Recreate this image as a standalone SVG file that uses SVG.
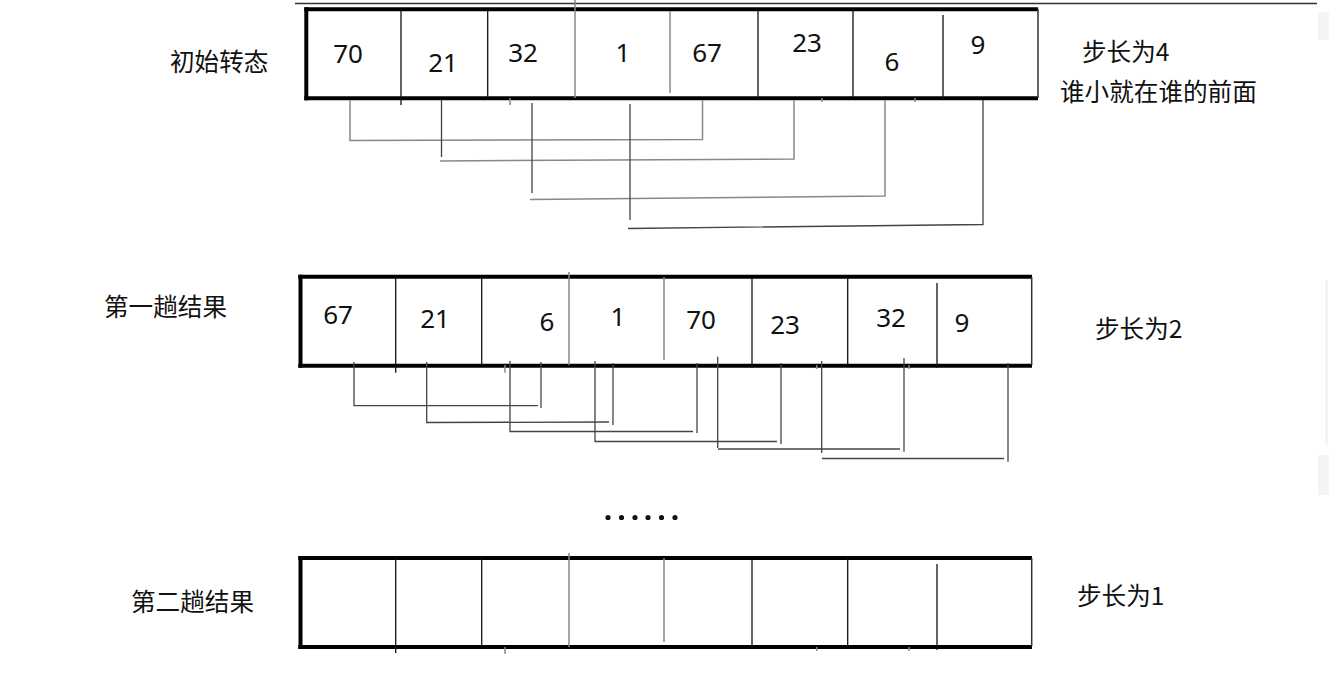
<svg xmlns="http://www.w3.org/2000/svg" width="1329" height="690" viewBox="0 0 1329 690">
<style>
.num{font-family:"Noto Sans","Open Sans","Liberation Sans",sans-serif;font-size:26px;fill:#111;text-anchor:middle}
.lbl{font-family:"Noto Sans CJK SC","Noto Sans",sans-serif;font-size:24.6px;fill:#111}
.thick{stroke:#000;stroke-width:4;fill:none}
.edge{stroke:#333;stroke-width:1.5;fill:none}
.div{stroke:#111;stroke-width:1.3;fill:none}
.divg{stroke:#888;stroke-width:1.5;fill:none}
.conn{stroke:#444;stroke-width:1.3;fill:none}
.conng{stroke:#888;stroke-width:1.5;fill:none}
</style>
<rect width="1329" height="690" fill="#fff"/>
<line x1="295" y1="3.5" x2="1317" y2="3.5" stroke="#333" stroke-width="1.5"/>
<rect x="1318" y="12" width="11" height="28" fill="#f4f4f4"/>
<line x1="1326.5" y1="280" x2="1326.5" y2="445" stroke="#eee" stroke-width="2"/>
<rect x="1318" y="455" width="11" height="40" fill="#f4f4f4"/>

<g id="label-initial"><text class="lbl" x="170" y="71">初始转态</text></g>
<g id="label-first"><text class="lbl" x="104" y="316">第一趟结果</text></g>
<g id="label-second"><text class="lbl" x="131" y="611">第二趟结果</text></g>
<g id="note-step4"><text class="lbl" x="1082" y="61">步长为4</text><text class="lbl" x="1060" y="101">谁小就在谁的前面</text></g>
<g id="note-step2"><text class="lbl" x="1095" y="338">步长为2</text></g>
<g id="note-step1"><text class="lbl" x="1077" y="605">步长为1</text></g>

<g id="row-initial">
<line class="thick" x1="304.3" y1="9.3" x2="1038" y2="9.3"/>
<line class="thick" x1="304.3" y1="98.3" x2="1038" y2="98.3"/>
<line class="thick" x1="306.3" y1="7.3" x2="306.3" y2="100.3"/>
<line class="edge" x1="1038" y1="9" x2="1038" y2="98"/>
<line class="div" x1="401" y1="10" x2="401" y2="105"/>
<line class="div" x1="487.7" y1="10" x2="487.7" y2="98"/>
<line class="divg" x1="575" y1="0" x2="575" y2="98"/>
<line class="divg" x1="670" y1="11" x2="670" y2="93"/>
<line class="div" x1="758" y1="10" x2="758" y2="100"/>
<line class="div" x1="853" y1="10" x2="853" y2="98"/>
<line class="div" x1="943" y1="15" x2="943" y2="100"/>
<line class="divg" x1="510" y1="98" x2="510" y2="105"/>
<line class="divg" x1="822" y1="98" x2="822" y2="102"/>
<line class="divg" x1="915" y1="98" x2="915" y2="102"/>
<text class="num" x="348" y="63">70</text>
<text class="num" x="443" y="72">21</text>
<text class="num" x="523" y="62">32</text>
<text class="num" x="623" y="62">1</text>
<text class="num" x="707" y="62">67</text>
<text class="num" x="807" y="52">23</text>
<text class="num" x="892" y="71">6</text>
<text class="num" x="978" y="54">9</text>
</g>

<g id="row-first">
<line class="thick" x1="298.3" y1="276.7" x2="1032" y2="276.7"/>
<line class="thick" x1="298.3" y1="365.7" x2="1032" y2="365.7"/>
<line class="thick" x1="300.5" y1="274.7" x2="300.5" y2="367.7"/>
<line class="edge" x1="1031.7" y1="277" x2="1031.7" y2="365"/>
<line class="div" x1="395.7" y1="277" x2="395.7" y2="372.7"/>
<line class="div" x1="481.7" y1="277" x2="481.7" y2="365"/>
<line class="divg" x1="569" y1="272" x2="569" y2="365"/>
<line class="divg" x1="664" y1="277" x2="664" y2="360"/>
<line class="div" x1="752" y1="277" x2="752" y2="368"/>
<line class="div" x1="847.7" y1="277" x2="847.7" y2="365"/>
<line class="div" x1="937" y1="283" x2="937" y2="368"/>
<line class="divg" x1="505" y1="365" x2="505" y2="372.7"/>
<line class="divg" x1="816.7" y1="365" x2="816.7" y2="369"/>
<line class="divg" x1="909" y1="365" x2="909" y2="369"/>
<text class="num" x="338" y="324">67</text>
<text class="num" x="435" y="328">21</text>
<text class="num" x="547" y="331">6</text>
<text class="num" x="618" y="326">1</text>
<text class="num" x="701" y="329">70</text>
<text class="num" x="785" y="334">23</text>
<text class="num" x="891" y="327">32</text>
<text class="num" x="962" y="332">9</text>
</g>

<g id="ellipsis" fill="#111">
<circle cx="608" cy="517.5" r="2.6"/>
<circle cx="621.5" cy="517.5" r="2.6"/>
<circle cx="635" cy="517.5" r="2.6"/>
<circle cx="648" cy="517.5" r="2.6"/>
<circle cx="661.5" cy="517.5" r="2.6"/>
<circle cx="675" cy="517.5" r="2.6"/>
</g>

<g id="row-second">
<line class="thick" x1="298.3" y1="558" x2="1032" y2="558"/>
<line class="thick" x1="298.3" y1="647" x2="1032" y2="647"/>
<line class="thick" x1="300.5" y1="556" x2="300.5" y2="649"/>
<line class="edge" x1="1031.7" y1="558" x2="1031.7" y2="646"/>
<line class="div" x1="395.7" y1="558" x2="395.7" y2="653"/>
<line class="div" x1="481.7" y1="558" x2="481.7" y2="647"/>
<line class="divg" x1="569" y1="553" x2="569" y2="647"/>
<line class="divg" x1="664" y1="558" x2="664" y2="642"/>
<line class="div" x1="752" y1="558" x2="752" y2="649"/>
<line class="div" x1="847.7" y1="558" x2="847.7" y2="647"/>
<line class="div" x1="937" y1="564" x2="937" y2="650"/>
<line class="divg" x1="505" y1="647" x2="505" y2="654"/>
<line class="divg" x1="816.7" y1="647" x2="816.7" y2="651"/>
<line class="divg" x1="909" y1="647" x2="909" y2="651"/>
</g>

<g id="connectors">
<polyline class="conng" points="350,100 350,140.5 702.5,139.5 702.5,100"/>
<polyline class="conn" points="441.5,100 441.5,157"/>
<polyline class="conng" points="440,161 794,159 794,100"/>
<polyline class="conn" points="532,103 532,193"/>
<polyline class="conng" points="530,199.5 885,196 885,100"/>
<polyline class="conn" points="630,104 630,220"/>
<polyline class="conn" points="628,228.5 983,224.5 983,100"/>

<polyline class="conn" points="354,362 354,405.7 538,405.7"/>
<polyline class="conn" points="541,362 541,408"/>
<polyline class="conn" points="426.7,362 426.7,422.5 609,422"/>
<polyline class="conn" points="613,363 613,425"/>
<polyline class="conn" points="510,361 510,431.5 693,431.5"/>
<polyline class="conn" points="697,363 697,433"/>
<polyline class="conn" points="595,361 595,441.5 777,441.5"/>
<polyline class="conn" points="781,363 781,444"/>
<polyline class="conn" points="717.7,356.7 717.7,448"/>
<polyline class="conn" points="718,449 900,449"/>
<polyline class="conn" points="904,358 904,451.7"/>
<polyline class="conn" points="821.7,361 821.7,453"/>
<polyline class="conn" points="822,458.5 1004,458.5"/>
<polyline class="conn" points="1008,363 1008,461.7"/>
</g>
</svg>
